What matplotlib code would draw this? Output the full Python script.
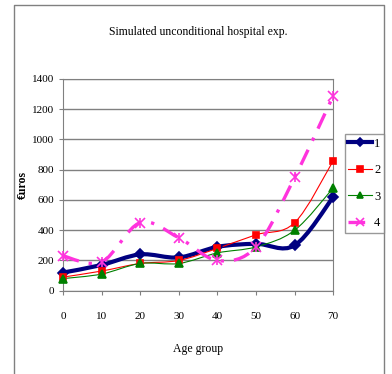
import matplotlib
matplotlib.use('Agg')
import matplotlib.pyplot as plt
from matplotlib.path import Path
from matplotlib.patches import PathPatch
from matplotlib.lines import Line2D
import numpy as np

plt.rcParams['font.family'] = ['Liberation Serif', 'DejaVu Serif']

# Data
age_groups = [0, 10, 20, 30, 40, 50, 60, 70]
exp_1 = [120, 170, 240, 220, 290, 310, 300, 620]
exp_2 = [90, 130, 180, 200, 280, 370, 450, 860]
exp_3 = [80, 110, 180, 180, 250, 290, 400, 680]
exp_4 = [230, 190, 450, 350, 200, 290, 750, 1290]
series_labels = ['1', '2', '3', '4']


def smooth_path(xs, ys):
    # Bezier segments through every point (spreadsheet-style smoothing)
    pts = np.column_stack([xs, ys]).astype(float)
    n = len(pts)
    verts = [pts[0]]
    codes = [Path.MOVETO]
    for i in range(n - 1):
        p0 = pts[max(i - 1, 0)]
        p1 = pts[i]
        p2 = pts[i + 1]
        p3 = pts[min(i + 2, n - 1)]
        c1 = p1 + (p2 - p0) / 6.0
        c2 = p2 - (p3 - p1) / 6.0
        verts += [c1, c2, p2]
        codes += [Path.CURVE4] * 3
    return Path(verts, codes)


fig = plt.figure(figsize=(3.92, 3.74), dpi=100)
ax = fig.add_axes([63 / 392, 83.3 / 374, 270.3 / 392, 211.7 / 374])

# chart border
fig.add_artist(Line2D([14 / 392, 14 / 392, 384 / 392, 384 / 392],
                      [-0.1, 1 - 5 / 374, 1 - 5 / 374, -0.1],
                      transform=fig.transFigure, color='#808080', lw=1))

styles = [
    dict(color='#000080', lw=3.0, ls='-', marker='D', ms=5),
    dict(color='#FF0000', lw=0.8, ls='-', marker='s', ms=5),
    dict(color='#008000', lw=0.8, ls='-', marker='^', ms=6),
    dict(color='#FF33DD', lw=2.4, ls=(0, (5, 3, 1, 3)), marker='x', ms=7),
]
handles = []
for ys, st, lab in zip([exp_1, exp_2, exp_3, exp_4], styles, series_labels):
    patch = PathPatch(smooth_path(age_groups, ys), facecolor='none',
                      edgecolor=st['color'], lw=st['lw'], ls=st['ls'],
                      capstyle='butt', zorder=3)
    ax.add_patch(patch)
    ax.plot(age_groups, ys, ls='none', marker=st['marker'], ms=st['ms'],
            color=st['color'], mew=1.2, zorder=4, clip_on=False)
    if st['marker'] == 'x':
        ax.plot(age_groups, ys, ls='none', marker='|', ms=st['ms'],
                color=st['color'], mew=1.2, zorder=4, clip_on=False)
    handles.append(Line2D([], [], color=st['color'], lw=st['lw'], ls=st['ls'],
                          marker=st['marker'], ms=st['ms'], mew=1.2))

ax.set_xlim(0, 70)
ax.set_ylim(0, 1400)
ax.set_xticks(age_groups)
ax.set_yticks(range(0, 1401, 200))
ax.yaxis.grid(True, color='#808080', lw=1)
ax.set_axisbelow(True)
for sp in ax.spines.values():
    sp.set_color('#808080')
ax.tick_params(axis='both', colors='#808080', labelcolor='black',
               labelsize=8, length=3)
ax.tick_params(axis='x', pad=12)

ax.set_title('Simulated unconditional hospital exp.', fontsize=8.5, pad=32)
ax.set_xlabel('Age group', fontsize=8.5, labelpad=16)
ax.set_ylabel('€uros', fontsize=8.5, fontweight='bold')
ax.yaxis.set_label_coords(-0.126, 0.5)

leg = fig.legend(handles, series_labels, loc='upper right',
                 bbox_to_anchor=(384 / 392, 1 - 134 / 374),
                 fontsize=9, frameon=True, fancybox=False,
                 edgecolor='#808080', handlelength=1.9, labelspacing=1.15,
                 borderpad=0.3, handletextpad=0.15, borderaxespad=0,
                 markerscale=0.8)
leg.get_frame().set_linewidth(1)

fig.savefig('out.png', dpi=100)
